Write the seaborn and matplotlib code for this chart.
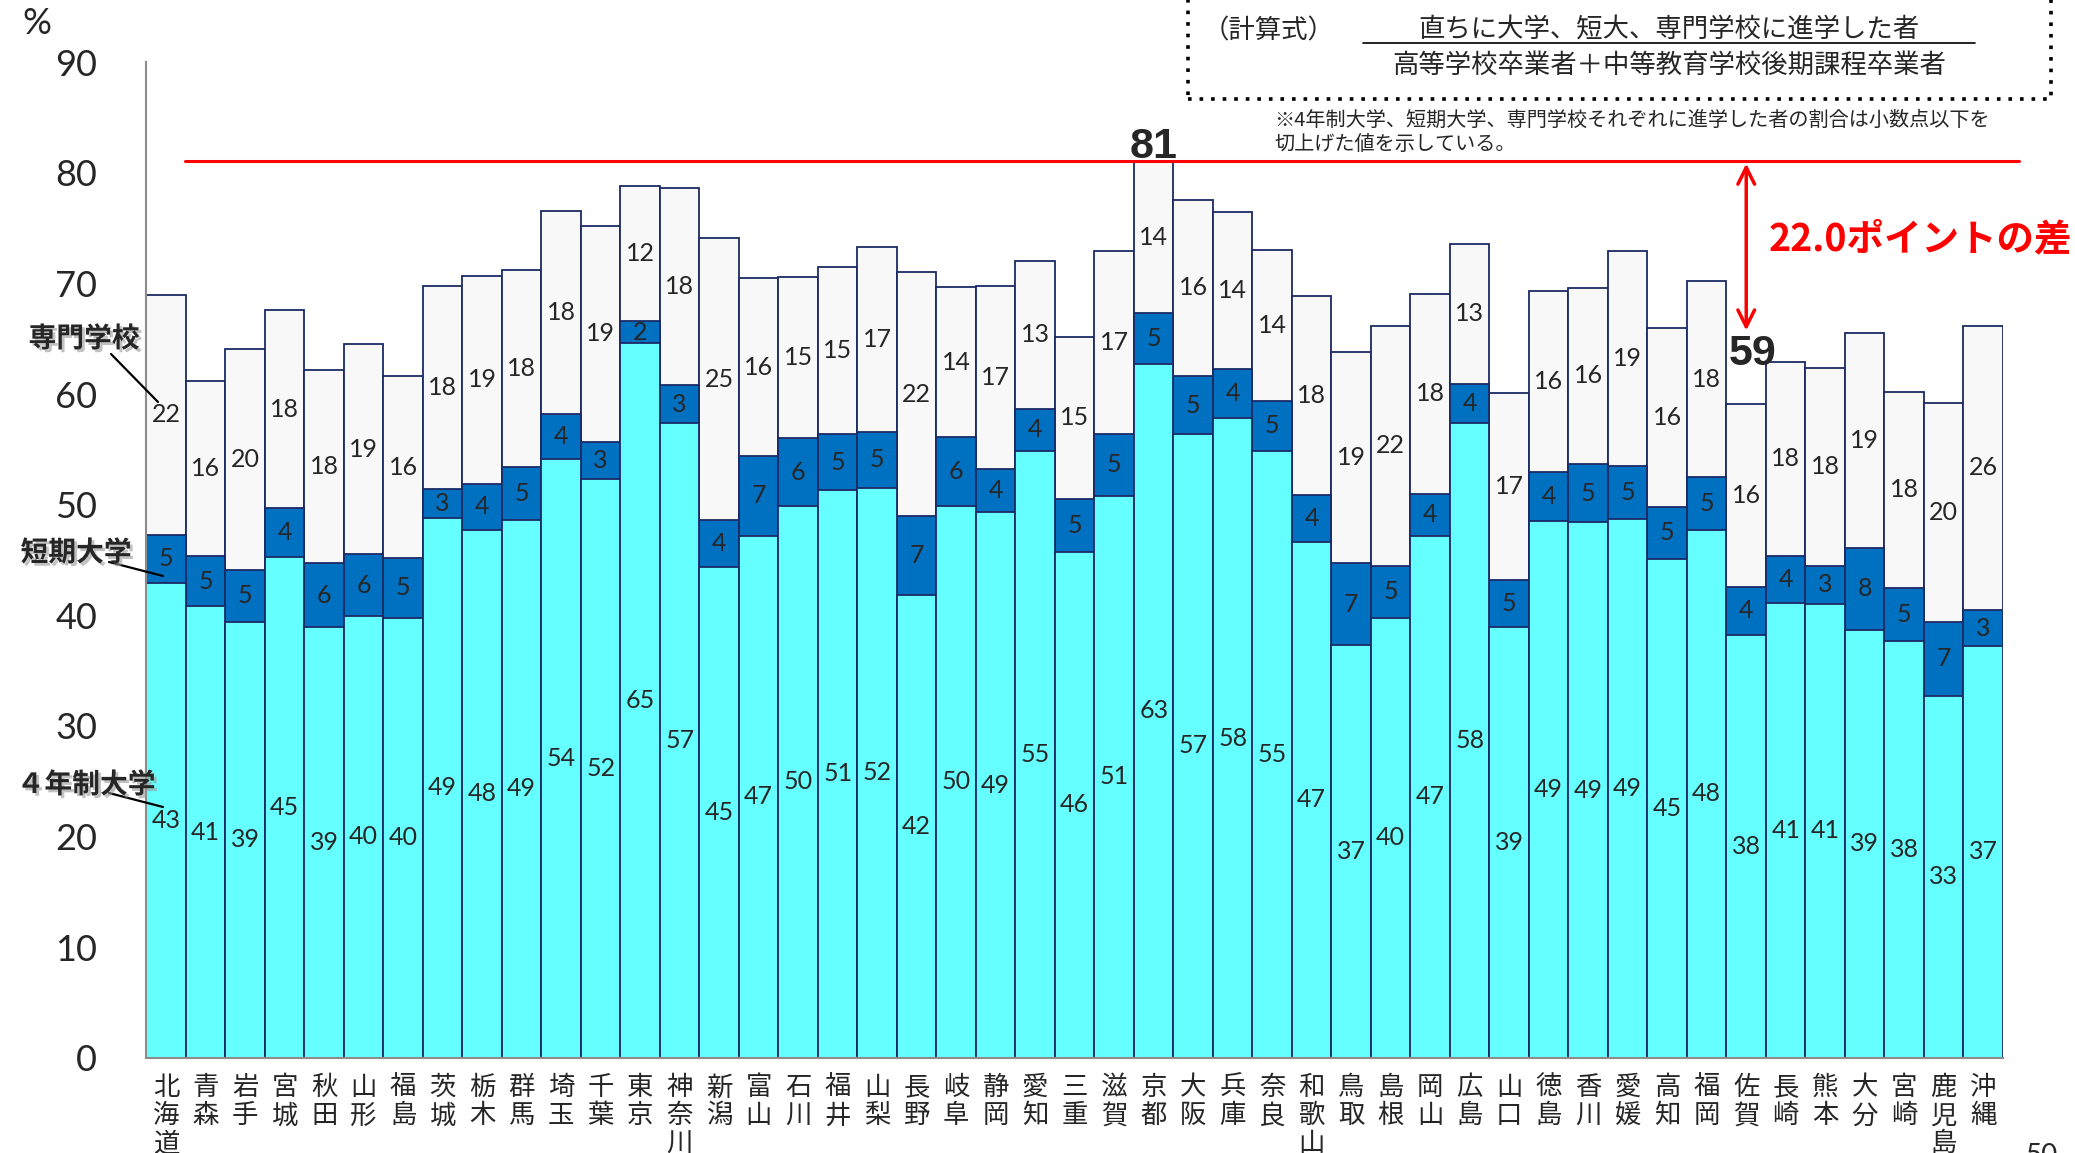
import numpy as np
import pandas as pd
import matplotlib
matplotlib.use("Agg")
import matplotlib.pyplot as plt
import matplotlib.patheffects as pe
from matplotlib.patches import Rectangle
from matplotlib.lines import Line2D
import seaborn as sns

# =========================================================
# DATA (labels are the printed, rounded-up values)
# =========================================================
prefs = ["北海道", "青森", "岩手", "宮城", "秋田", "山形", "福島", "茨城", "栃木", "群馬",
         "埼玉", "千葉", "東京", "神奈川", "新潟", "富山", "石川", "福井", "山梨", "長野",
         "岐阜", "静岡", "愛知", "三重", "滋賀", "京都", "大阪", "兵庫", "奈良", "和歌山",
         "鳥取", "島根", "岡山", "広島", "山口", "徳島", "香川", "愛媛", "高知", "福岡",
         "佐賀", "長崎", "熊本", "大分", "宮崎", "鹿児島", "沖縄"]

univ4 = [42.9, 40.8, 39.4, 45.3, 38.9, 39.9, 39.8, 48.8, 47.7, 48.6,
         54.1, 52.3, 64.6, 57.4, 44.4, 47.2, 49.9, 51.3, 51.5, 41.8,
         49.9, 49.3, 54.9, 45.7, 50.8, 62.7, 56.4, 57.8, 54.9, 46.6,
         37.3, 39.8, 47.2, 57.4, 38.9, 48.5, 48.4, 48.7, 45.1, 47.7,
         38.2, 41.1, 41.0, 38.7, 37.7, 32.7, 37.2]
junior = [4.4, 4.6, 4.7, 4.4, 5.8, 5.6, 5.4, 2.6, 4.2, 4.8,
          4.1, 3.4, 2.0, 3.4, 4.2, 7.2, 6.1, 5.1, 5.1, 7.2,
          6.2, 3.9, 3.8, 4.8, 5.6, 4.6, 5.2, 4.5, 4.5, 4.3,
          7.4, 4.7, 3.8, 3.5, 4.3, 4.5, 5.3, 4.8, 4.7, 4.8,
          4.4, 4.3, 3.5, 7.4, 4.8, 6.7, 3.3]
senmon = [21.7, 15.8, 20.0, 17.9, 17.5, 19.0, 16.4, 18.4, 18.8, 17.8,
          18.4, 19.5, 12.2, 17.8, 25.5, 16.1, 14.6, 15.1, 16.7, 22.0,
          13.6, 16.6, 13.3, 14.7, 16.5, 13.8, 16.0, 14.2, 13.6, 18.0,
          19.1, 21.7, 18.1, 12.7, 16.9, 16.3, 15.9, 19.4, 16.2, 17.7,
          16.5, 17.5, 17.9, 19.4, 17.7, 19.8, 25.7]

lab_univ4 = [43, 41, 39, 45, 39, 40, 40, 49, 48, 49, 54, 52, 65, 57, 45, 47, 50, 51, 52, 42,
             50, 49, 55, 46, 51, 63, 57, 58, 55, 47, 37, 40, 47, 58, 39, 49, 49, 49, 45, 48,
             38, 41, 41, 39, 38, 33, 37]
lab_junior = [5, 5, 5, 4, 6, 6, 5, 3, 4, 5, 4, 3, 2, 3, 4, 7, 6, 5, 5, 7,
              6, 4, 4, 5, 5, 5, 5, 4, 5, 4, 7, 5, 4, 4, 5, 4, 5, 5, 5, 5,
              4, 4, 3, 8, 5, 7, 3]
lab_senmon = [22, 16, 20, 18, 18, 19, 16, 18, 19, 18, 18, 19, 12, 18, 25, 16, 15, 15, 17, 22,
              14, 17, 13, 15, 17, 14, 16, 14, 14, 18, 19, 22, 18, 13, 17, 16, 16, 19, 16, 18,
              16, 18, 18, 19, 18, 20, 26]

y_ticks = [0, 10, 20, 30, 40, 50, 60, 70, 80, 90]

# =========================================================
# STYLE
# =========================================================
sns.set_style("white")
plt.rcParams["font.family"] = ["Lato", "Noto Sans CJK JP", "DejaVu Sans"]
JP = ["Noto Sans CJK JP", "DejaVu Sans"]

c_univ = "#66FFFF"
c_junior = "#0070C0"
c_senmon = "#F8F8F8"
c_edge = "#1B2A66"
c_axis = "#8C8C8C"

W, H = 2075, 1153


def fpx(x, y):
    # pixel position -> figure fraction
    return x / W, 1 - y / H


df = pd.DataFrame({"pref": prefs, "univ4": univ4, "junior": junior, "senmon": senmon})
df["mid"] = df["univ4"] + df["junior"]
df["total"] = df["mid"] + df["senmon"]

fig = plt.figure(figsize=(W / 100, H / 100), dpi=100)
ax = fig.add_axes([146.4 / W, 1 - 1057.6 / H, (2003 - 146.4) / W, (1057.6 - 62.4) / H])

# stacked bars drawn back to front
for col, colr in [("total", c_senmon), ("mid", c_junior), ("univ4", c_univ)]:
    sns.barplot(data=df, x="pref", y=col, color=colr, saturation=1, width=1.0,
                edgecolor=c_edge, linewidth=1.3, errorbar=None, ax=ax)

# segment labels
xs = np.arange(len(df))
for i in xs:
    ax.text(i, df["univ4"][i] / 2, str(lab_univ4[i]), ha="center", va="center", fontsize=18)
    ax.text(i, df["univ4"][i] + df["junior"][i] / 2, str(lab_junior[i]), ha="center", va="center", fontsize=18)
    ax.text(i, df["mid"][i] + df["senmon"][i] / 2, str(lab_senmon[i]), ha="center", va="center", fontsize=18)

ax.set_xlim(-0.5, len(df) - 0.5)
ax.set_ylim(0, 90)
ax.set_yticks(y_ticks)
ax.set_xticks(xs)
ax.set_xticklabels(["\n".join(p) for p in prefs], family=JP, fontsize=19, linespacing=1.05)
ax.set_xticks(np.arange(-0.5, len(df), 1), minor=True)
ax.set_xlabel("")
ax.set_ylabel("")

ax.tick_params(axis="y", length=9.5, width=1.5, color=c_axis, pad=26, labelsize=26)
ax.tick_params(axis="x", which="major", length=0, pad=12)
ax.tick_params(axis="x", which="minor", length=6, width=1.5, color=c_axis)
sns.despine(ax=ax)
for s in ["left", "bottom"]:
    ax.spines[s].set_color(c_axis)
    ax.spines[s].set_linewidth(1.5)

# max / min line and arrow
i_max = int(df["total"].idxmax())
i_min = int(df["total"].idxmin())
t_max = df["total"][i_max]
t_min = df["total"][i_min]

ax.plot([0.48, 46.9], [t_max, t_max], color="red", lw=2.2, clip_on=False, zorder=5)
ax.annotate("", xy=(i_min, t_max), xytext=(i_min, t_min + 6.4),
            arrowprops=dict(arrowstyle="<->", color="red", lw=2.5, mutation_scale=30),
            zorder=6)
ax.text(i_max, t_max + 0.25, f"{t_max:.0f}", ha="center", va="baseline",
        fontsize=31, fontweight="bold", family=["Liberation Sans"], zorder=6)
ax.text(i_min + 0.15, t_min + 3.5, f"{t_min:.0f}", ha="center", va="baseline",
        fontsize=31, fontweight="bold", family=["Liberation Sans"], zorder=6)
ax.text(i_min + 0.58, 74.0, f"{t_max - t_min:.1f}ポイントの差", ha="left", va="center",
        color="#FF0000", fontsize=27, fontweight="bold", family=JP, clip_on=False)

# "%" unit
fig.text(*fpx(37, 24), "%", ha="center", va="center", fontsize=26)

# series call-outs on the left
shadow = [pe.SimplePatchShadow(offset=(2, -2), shadow_rgbFace="#999999", alpha=0.6), pe.Normal()]
for name, (tx, ty), (x0, y0, x1, y1) in [
    ("専門学校", (84, 339), (111, 354, 158, 402)),
    ("短期大学", (76, 553), (109, 562, 163, 576)),
    ("４年制大学", (86, 785), (109, 793, 163, 807)),
]:
    fig.text(*fpx(tx, ty), name, ha="center", va="center", fontsize=20,
             fontweight="bold", family=JP, path_effects=shadow)
    fig.add_artist(Line2D([x0 / W, x1 / W], [1 - y0 / H, 1 - y1 / H], color="black",
                          lw=1.6, transform=fig.transFigure))

# formula box (top right)
bx0, by0 = fpx(1187.6, 98.7)
bx1, by1 = fpx(2051, -5)
fig.add_artist(Rectangle((bx0, by0), bx1 - bx0, by1 - by0, transform=fig.transFigure,
                         fill=False, edgecolor="black", lw=2.6, linestyle=(0, (1, 2.2))))
fig.text(*fpx(1269, 31), "（計算式）", ha="center", va="center", fontsize=19, family=JP)
fig.text(*fpx(1669, 30), "直ちに大学、短大、専門学校に進学した者", ha="center", va="center",
         fontsize=19, family=JP)
fig.add_artist(Line2D([1363 / W, 1975 / W], [1 - 43 / H, 1 - 43 / H], color="black",
                      lw=1.2, transform=fig.transFigure))
fig.text(*fpx(1669, 65), "高等学校卒業者＋中等教育学校後期課程卒業者", ha="center", va="center",
         fontsize=19, family=JP)

fig.text(*fpx(1274, 120), "※4年制大学、短期大学、専門学校それぞれに進学した者の割合は小数点以下を",
         ha="left", va="center", fontsize=14.5, family=JP)
fig.text(*fpx(1274, 145), "切上げた値を示している。", ha="left", va="center", fontsize=14.5, family=JP)

# page number, cut by the bottom edge
fig.text(*fpx(2042, 1143), "50", ha="center", va="top", fontsize=20)

fig.savefig("out.png", dpi=100)
